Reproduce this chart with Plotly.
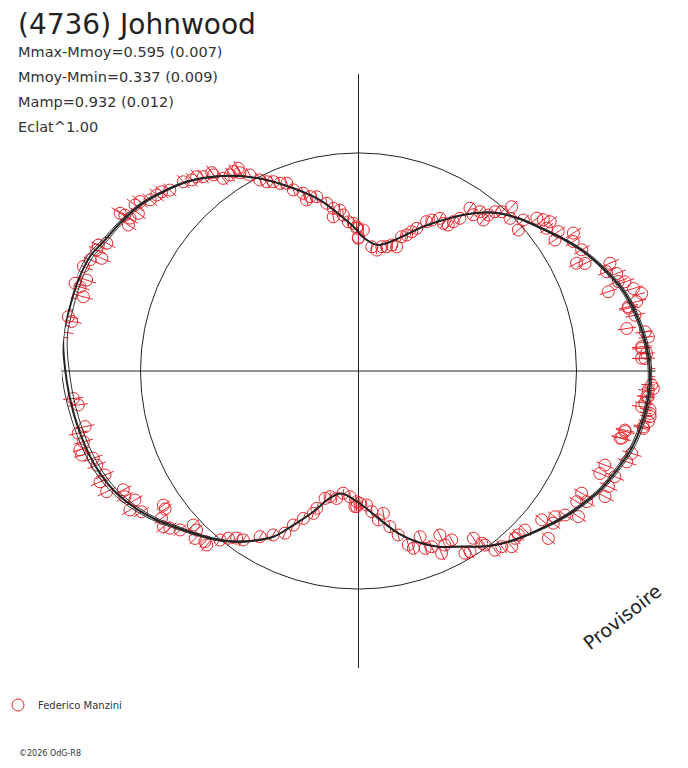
import plotly.graph_objects as go

# phase angle (deg, 0 at top, clockwise) and relative flux (1 = mean, the circle)
obs_theta = [
    275.5, 276.5, 277.5, 278.8, 279.8, 280.6, 282.0, 284.3, 285.1, 286.8, 287.2, 288.5,
    290.8, 292.5, 293.7, 294.8, 296.9, 295.8, 302.4, 303.7, 305.6, 306.6, 307.8, 309.4,
    311.1, 312.3, 313.8, 317.2, 318.9, 320.2, 321.4, 323.5, 323.5, 324.9, 326.8, 327.9,
    329.3, 329.1, 331.0, 332.7, 334.1, 335.8, 337.3, 339.1, 340.2, 342.7, 344.5, 343.1,
    346.5, 349.3, 350.7, 351.2, 353.4, 354.4, 356.1, 358.0, 359.3, 359.9, 303.5, 303.8,
    359.3, 1.95, 0.0, 6.1, 8.6, 10.6, 12.8, 14.8, 17.1, 17.8, 19.5, 20.9,
    22.2, 24.5, 25.9, 28.1, 29.9, 31.6, 32.4, 33.6, 34.4, 36.3, 37.3, 39.6,
    39.8, 40.6, 42.0, 43.0, 44.8, 48.6, 47.5, 49.4, 50.7, 52.8, 52.1, 56.3,
    55.1, 57.3, 58.9, 61.5, 63.7, 64.6, 66.8, 68.2, 69.3, 71.0, 71.5, 72.4,
    73.3, 74.7, 76.6, 76.0, 78.6, 81.0, 82.2, 83.3, 85.4, 86.5, 87.4, 89.5,
    76.9, 85.1, 87.5, 91.1, 92.7, 93.8, 95.1, 97.2, 97.6, 98.9, 101.4, 102.5, 104.4,
    91.7, 93.4, 95.1, 96.4, 98.3, 99.9, 101.1, 102.8, 104.3, 106.8, 108.7, 110.9,
    113.0, 112.4, 114.8, 117.0, 118.7, 120.9, 119.8, 123.5, 124.9, 126.6, 128.0, 129.1,
    131.4, 133.7, 135.7, 136.9, 138.9, 140.8, 142.7, 144.0, 144.4, 145.5, 148.3, 149.7,
    151.1, 153.6, 153.6, 155.5, 157.4, 159.4, 159.6, 162.8, 164.0, 166.4, 168.6, 170.1,
    172.4, 174.6, 176.5, 179.4, 180.8,
    264.5, 263.1, 258.5, 257.5, 255.6, 254.2, 253.1, 251.8, 250.2, 247.7, 246.8, 244.4,
    243.2, 241.7, 240.0, 238.7, 237.0, 235.5, 234.5, 233.2, 231.4, 230.2, 228.3, 227.0,
    225.5, 224.3, 222.0, 221.1, 219.3, 217.9, 216.1, 214.3, 210.7, 207.5, 204.4, 202.9,
    200.5, 197.6, 196.9, 194.7, 192.8, 189.7, 187.1, 183.9, 180.8, 181.5,
]
obs_flux = [
    1.414, 1.386, 1.366, 1.385, 1.335, 1.354, 1.384, 1.381, 1.307, 1.335, 1.361, 1.315,
    1.350, 1.333, 1.286, 1.323, 1.295, 1.326, 1.250, 1.288, 1.242, 1.277, 1.268, 1.237,
    1.228, 1.221, 1.199, 1.183, 1.163, 1.160, 1.141, 1.119, 1.132, 1.080, 1.075, 1.080,
    1.081, 1.060, 1.028, 0.986, 0.965, 0.952, 0.933, 0.922, 0.883, 0.854, 0.830, 0.820,
    0.822, 0.783, 0.717, 0.755, 0.743, 0.719, 0.686, 0.678, 0.655, 0.609, 1.311, 1.261,
    0.662, 0.647, 0.613, 0.573, 0.561, 0.580, 0.585, 0.598, 0.596, 0.647, 0.662, 0.684,
    0.707, 0.753, 0.770, 0.794, 0.781, 0.786, 0.811, 0.841, 0.905, 0.889, 0.919, 0.899,
    0.931, 0.962, 0.983, 1.030, 0.987, 0.978, 1.025, 1.077, 1.095, 1.083, 1.114, 1.083,
    1.117, 1.171, 1.150, 1.165, 1.116, 1.150, 1.255, 1.226, 1.266, 1.260, 1.289, 1.202,
    1.317, 1.347, 1.272, 1.315, 1.294, 1.246, 1.327, 1.339, 1.303, 1.324, 1.300, 1.391,
    1.271, 1.304, 1.316, 1.383, 1.346, 1.332, 1.327, 1.309, 1.349, 1.354, 1.333, 1.252, 1.239,
    1.376, 1.355, 1.334, 1.322, 1.351, 1.350, 1.331, 1.254, 1.246, 1.309, 1.299, 1.210,
    1.203, 1.272, 1.263, 1.269, 1.167, 1.167, 1.206, 1.210, 1.155, 1.122, 1.134, 1.083,
    1.161, 1.056, 1.050, 1.051, 1.069, 1.040, 1.033, 0.987, 0.972, 0.931, 0.974, 0.968,
    0.885, 0.891, 0.840, 0.919, 0.873, 0.869, 0.811, 0.851, 0.830, 0.774, 0.728, 0.663,
    0.689, 0.648, 0.616, 0.607, 0.622,
    1.314, 1.295, 1.280, 1.317, 1.303, 1.328, 1.327, 1.281, 1.276, 1.257, 1.290, 1.281,
    1.209, 1.217, 1.184, 1.227, 1.186, 1.086, 1.090, 1.128, 1.145, 1.126, 1.096, 1.036,
    1.041, 1.073, 1.053, 1.059, 1.002, 0.972, 0.949, 0.938, 0.884, 0.848, 0.817, 0.767,
    0.722, 0.685, 0.658, 0.604, 0.591, 0.593, 0.565, 0.578, 0.600, 0.622,
]
mag_err = 0.038

# fitted lightcurve and its spread
fit_theta = [0, 8.5, 16.7, 23.7, 30.5, 35.7, 40.8, 46.3, 52.1, 58.4, 63.2, 68.6, 73.7,
             79.7, 85.2, 90, 95.4, 100.8, 105.8, 110.5, 115.8, 121, 126, 132.3, 137.9,
             143.4, 149.6, 155.6, 160.8, 166.2, 172.3, 178.6, 188, 193, 197.8, 202.9,
             207.2, 211.8, 216.3, 220.8, 225.5, 230.1, 234.3, 238.9, 244.1, 249.6, 255.6,
             261.9, 267.9, 276.6, 282.6, 288, 293.1, 297.3, 301.8, 307.2, 312.6, 317.8,
             323.2, 328.7, 334.3, 340.4, 347.3, 353.2, 359.3]
fit_flux = [0.633, 0.585, 0.635, 0.720, 0.812, 0.890, 0.959, 1.014, 1.065, 1.131, 1.181,
            1.230, 1.273, 1.305, 1.327, 1.337, 1.335, 1.322, 1.302, 1.272, 1.239, 1.194,
            1.151, 1.095, 1.049, 1.000, 0.934, 0.885, 0.832, 0.767, 0.682, 0.615, 0.567,
            0.601, 0.678, 0.767, 0.855, 0.916, 0.971, 1.018, 1.062, 1.110, 1.159, 1.206,
            1.250, 1.281, 1.303, 1.322, 1.339, 1.363, 1.356, 1.351, 1.339, 1.309, 1.287,
            1.259, 1.216, 1.172, 1.113, 1.047, 0.972, 0.890, 0.804, 0.721, 0.647]
fit_spread = [0, 0, 0, 0, 0, 0.001, 0.002, 0.003, 0.004, 0.005, 0.006, 0.007, 0.008,
              0.008, 0.008, 0.008, 0.008, 0.009, 0.009, 0.009, 0.008, 0.007, 0.006, 0.004,
              0.003, 0.002, 0.001, 0, 0, 0, 0, 0, 0, 0, 0, 0.001, 0.002, 0.003, 0.004,
              0.005, 0.006, 0.008, 0.009, 0.011, 0.013, 0.015, 0.016, 0.017, 0.018, 0.018,
              0.016, 0.014, 0.012, 0.010, 0.008, 0.006, 0.004, 0.003, 0.002, 0.001, 0, 0,
              0, 0, 0]

title = '(4736) Johnwood'
stats = ['Mmax-Mmoy=0.595 (0.007)', 'Mmoy-Mmin=0.337 (0.009)', 'Mamp=0.932 (0.012)', 'Eclat^1.00']
observer = 'Federico Manzini'

red = '#e8262e'
ink = '#222222'
font = 'DejaVu Sans'

# the page body keeps an 8px margin; size the figure so the page does not overflow
PAD = 8
W, H = 688 - 2 * PAD, 768 - 2 * PAD


def px(x):
    return (x - PAD) / W


def py(y):
    return 1 - (y - PAD) / H


fig = go.Figure()

# radial error bars
eb_r, eb_t = [], []
for t, f in zip(obs_theta, obs_flux):
    eb_r += [f * 10 ** (-0.4 * mag_err), f * 10 ** (0.4 * mag_err), None]
    eb_t += [t, t, None]
fig.add_trace(go.Scatterpolar(r=eb_r, theta=eb_t, mode='lines', cliponaxis=False,
                              line=dict(color=red, width=1), showlegend=False, hoverinfo='skip'))

fig.add_trace(go.Scatterpolar(
    r=obs_flux, theta=obs_theta, mode='markers', name=observer, cliponaxis=False,
    marker=dict(symbol='circle-open', size=12, color=red, line=dict(width=1, color=red))))

closed_t = fit_theta + [fit_theta[0] + 360]
for sign in (-1, 1):
    env = [f + sign * s for f, s in zip(fit_flux, fit_spread)]
    fig.add_trace(go.Scatterpolar(r=env + [env[0]], theta=closed_t, mode='lines',
                                  line=dict(color='#333333', width=1, shape='spline'),
                                  showlegend=False, hoverinfo='skip'))
fig.add_trace(go.Scatterpolar(r=fit_flux + [fit_flux[0]], theta=closed_t, mode='lines',
                              line=dict(color=ink, width=2, shape='spline'),
                              showlegend=False, hoverinfo='skip'))

annotations = [dict(text=title, x=px(16), y=py(24.5), xanchor='left', yanchor='middle',
                    font=dict(family=font, size=28, color=ink))]
for i, s in enumerate(stats):
    annotations.append(dict(text=s, x=px(16), y=py(52 + 25 * i), xanchor='left',
                            yanchor='middle', font=dict(family=font, size=14.5, color='#333333')))
annotations.append(dict(text='Provisoire', x=px(622), y=py(617), textangle=-38,
                        xanchor='center', yanchor='middle',
                        font=dict(family=font, size=19, color=ink)))
annotations.append(dict(text='\u00a92026 OdG-R8', x=px(17), y=0, xanchor='left',
                        yanchor='bottom', font=dict(family=font, size=8, color='#333333')))
for a in annotations:
    a.update(xref='paper', yref='paper', showarrow=False)

fig.update_layout(
    width=W, height=H,
    # no automatic margin growth, so the legend can sit at the very left edge
    margin=dict(l=0, r=0, t=0, b=0, autoexpand=False),
    paper_bgcolor='white',
    annotations=annotations,
    showlegend=True,
    legend=dict(x=px(-2), y=py(705), xanchor='left', yanchor='middle',
                bgcolor='rgba(0,0,0,0)', font=dict(family=font, size=10, color='#333333')),
    polar=dict(
        domain=dict(x=[px(358.5 - 297), px(358.5 + 297)], y=[py(371 + 297), py(371 - 297)]),
        bgcolor='white',
        radialaxis=dict(range=[0, 297 / 218], tickvals=[1.0], showticklabels=False, ticks='',
                        showline=False, gridcolor=ink, gridwidth=1),
        angularaxis=dict(rotation=90, direction='clockwise', tickvals=[0, 90, 180, 270],
                         showticklabels=False, ticks='', showline=False,
                         gridcolor=ink, gridwidth=1),
    ),
)

fig.write_html('out.html')
